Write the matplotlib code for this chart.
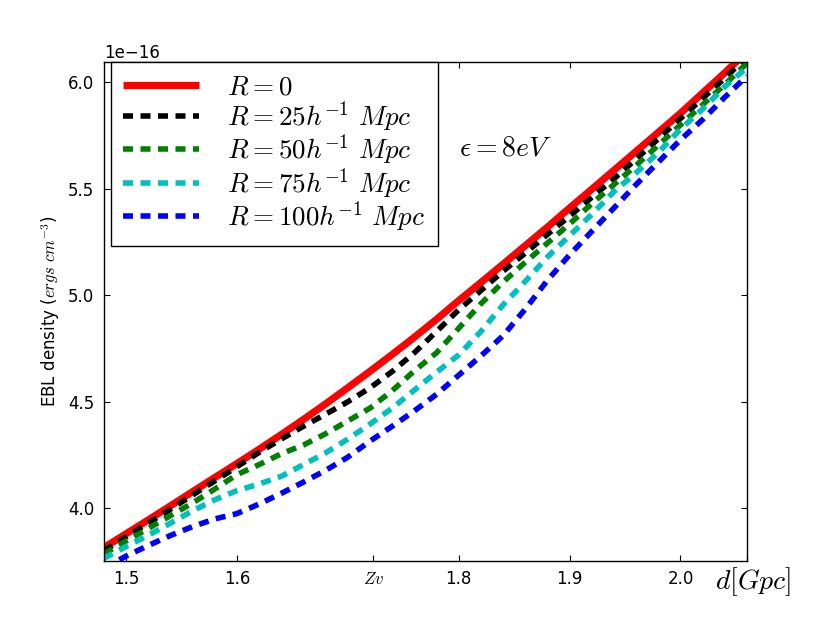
import matplotlib
matplotlib.use("Agg")
import matplotlib.pyplot as plt
import matplotlib.transforms as mtransforms
import numpy as np

plt.rcParams['mathtext.fontset'] = 'cm'
plt.rcParams['font.family'] = ['DejaVu Sans']
plt.rcParams['lines.scale_dashes'] = False

d = [1.48, 1.50, 1.52, 1.54, 1.56, 1.58, 1.60, 1.62, 1.64, 1.66, 1.68, 1.70, 1.72, 1.74, 1.76,
     1.78, 1.80, 1.82, 1.84, 1.86, 1.88, 1.90, 1.92, 1.94, 1.96, 1.98, 2.00, 2.02, 2.04, 2.06]

ebl_r0 = [3.815, 3.880, 3.945, 4.011, 4.078, 4.144, 4.210, 4.277, 4.346, 4.417, 4.490, 4.566, 4.643,
          4.722, 4.803, 4.887, 4.975, 5.060, 5.146, 5.233, 5.320, 5.410, 5.498, 5.587, 5.676, 5.765,
          5.855, 5.950, 6.045, 6.145]
ebl_r25 = [3.800, 3.865, 3.930, 3.995, 4.062, 4.128, 4.195, 4.262, 4.325, 4.385, 4.442, 4.500, 4.565,
           4.642, 4.730, 4.830, 4.932, 5.022, 5.113, 5.198, 5.286, 5.372, 5.460, 5.547, 5.640, 5.735,
           5.830, 5.925, 6.020, 6.120]
ebl_r50 = [3.786, 3.846, 3.905, 3.965, 4.025, 4.090, 4.158, 4.205, 4.256, 4.297, 4.350, 4.410, 4.470,
           4.552, 4.645, 4.730, 4.845, 4.960, 5.062, 5.155, 5.245, 5.335, 5.430, 5.520, 5.610, 5.705,
           5.800, 5.895, 5.990, 6.090]
ebl_r75 = [3.765, 3.820, 3.873, 3.930, 3.988, 4.040, 4.083, 4.114, 4.150, 4.205, 4.260, 4.325, 4.395,
           4.470, 4.555, 4.639, 4.720, 4.830, 4.955, 5.065, 5.180, 5.280, 5.380, 5.487, 5.575, 5.670,
           5.780, 5.875, 5.980, 6.070]
ebl_r100 = [3.720, 3.775, 3.825, 3.872, 3.914, 3.950, 3.975, 4.020, 4.070, 4.123, 4.178, 4.240, 4.315,
            4.385, 4.457, 4.535, 4.625, 4.715, 4.810, 4.935, 5.070, 5.190, 5.300, 5.410, 5.520, 5.625,
            5.730, 5.825, 5.930, 6.030]

labels = [r'$R=0$', r'$R=25h^{-1}\ Mpc$', r'$R=50h^{-1}\ Mpc$',
          r'$R=75h^{-1}\ Mpc$', r'$R=100h^{-1}\ Mpc$']
colors = ['r', 'k', 'g', 'c', 'b']

xtick_pos = [1.5, 1.6, 1.723, 1.8, 1.9, 2.0, 2.06]
xtick_lab = ['1.5', '1.6', r'$Zv$', '1.8', '1.9', '2.0', r'$d[Gpc]$']

fig = plt.figure(figsize=(8.3, 6.23), dpi=100)
ax = fig.add_axes([0.125, 0.1, 0.775, 0.8])

scale = 1e-16
series = [ebl_r0, ebl_r25, ebl_r50, ebl_r75, ebl_r100]
for i, (ys, c, lab) in enumerate(zip(series, colors, labels)):
    y = np.array(ys) * scale
    if i == 0:
        ax.plot(d, y, color=c, lw=5.2, label=lab, solid_capstyle='butt')
    else:
        ax.plot(d, y, color=c, lw=4, label=lab, linestyle=(0, (7.2, 5.4)), dash_capstyle='butt')

ax.set_xlim(1.48, 2.06)
ax.set_ylim(3.754e-16, 6.094e-16)

ax.tick_params(direction='in', top=True, right=True, labelsize=12, length=4, pad=7)
ax.set_xticks(xtick_pos)
ax.set_xticklabels(xtick_lab)
last = ax.get_xticklabels()[-1]
last.set_fontsize(20)
last.set_transform(last.get_transform() +
                   mtransforms.ScaledTranslation(6 / 100, 5 / 100, fig.dpi_scale_trans))
ax.yaxis.get_offset_text().set_fontsize(12)
for sp in ax.spines.values():
    sp.set_linewidth(1.0)

ax.set_ylabel(r'EBL density ($ergs\ cm^{-3}$)', fontsize=12)

ax.text(1.80, 5.695e-16, r'$\epsilon=8eV$', fontsize=20, va='center', ha='left')

leg = ax.legend(loc='upper left', bbox_to_anchor=(0.011, 1.0), borderaxespad=0,
                fontsize=19.5, handlelength=2.8, handletextpad=1.05, borderpad=0.45,
                labelspacing=-0.05, fancybox=False, framealpha=1, edgecolor='k')
leg.get_frame().set_linewidth(1.0)

fig.savefig('out.png', dpi=100, facecolor='white')
